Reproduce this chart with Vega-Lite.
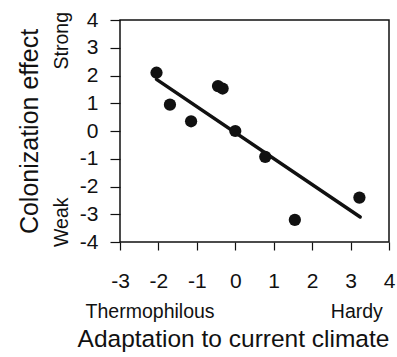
{
  "$schema": "https://vega.github.io/schema/vega-lite/v6.json",
  "width": 269,
  "height": 222,
  "autosize": {"type": "none"},
  "padding": {"left": 120, "top": 20, "right": 8, "bottom": 115},
  "background": "white",
  "config": {
    "font": "Liberation Sans",
    "view": {"stroke": "#111", "strokeWidth": 1.5},
    "axis": {"grid": false, "labelColor": "#111", "titleColor": "#111", "tickColor": "#111", "domainColor": "#111", "labelFlush": false, "labelOverlap": false, "titleFontWeight": "normal"}
  },
  "datasets": {
    "points": [
      {"adaptation": -2.05, "effect": 2.1},
      {"adaptation": -1.7, "effect": 0.95},
      {"adaptation": -1.15, "effect": 0.35},
      {"adaptation": -0.45, "effect": 1.62},
      {"adaptation": -0.33, "effect": 1.53},
      {"adaptation": 0.0, "effect": 0.0},
      {"adaptation": 0.78, "effect": -0.93},
      {"adaptation": 1.55, "effect": -3.2},
      {"adaptation": 3.23, "effect": -2.4}
    ],
    "fit": [
      {"adaptation": -2.05, "effect": 1.86},
      {"adaptation": 3.25, "effect": -3.1}
    ]
  },
  "resolve": {"axis": {"x": "independent", "y": "independent"}},
  "layer": [
    {
      "data": {"name": "fit"},
      "mark": {"type": "line", "color": "#111", "strokeWidth": 3.5, "strokeCap": "round"},
      "encoding": {
        "x": {"field": "adaptation", "type": "quantitative",
          "scale": {"domain": [-3, 4], "nice": false, "zero": false},
          "axis": {"orient": "bottom", "values": [-2.23, 3.15], "labelExpr": "datum.value < 0 ? 'Thermophilous' : 'Hardy'", "ticks": false, "tickSize": 0, "domain": false, "labelPadding": 60, "labelFontSize": 19.5, "labelBaseline": "top", "labelAlign": "center", "title": "Adaptation to current climate", "titleFontSize": 24.5, "titlePadding": 7, "titleX": 113}},
        "y": {"field": "effect", "type": "quantitative",
          "scale": {"domain": [-4, 4], "nice": false, "zero": false},
          "axis": {"orient": "left", "values": [3.27, -3.27], "labelExpr": "datum.value > 0 ? 'Strong' : 'Weak'", "ticks": false, "tickSize": 0, "domain": false, "labelPadding": 49, "labelFontSize": 19.5, "labelAngle": 270, "labelAlign": "center", "labelBaseline": "bottom", "title": "Colonization effect", "titleFontSize": 25, "titlePadding": 9}}
      }
    },
    {
      "data": {"name": "points"},
      "mark": {"type": "circle", "color": "#111", "opacity": 1, "size": 150},
      "encoding": {
        "x": {"field": "adaptation", "type": "quantitative",
          "axis": {"orient": "bottom", "values": [-3, -2, -1, 0, 1, 2, 3, 4], "labelExpr": "toString(datum.value)", "tickSize": 8, "tickWidth": 1.2, "labelPadding": 20, "labelFontSize": 21, "domain": false, "title": null}},
        "y": {"field": "effect", "type": "quantitative",
          "axis": {"orient": "left", "values": [-4, -3, -2, -1, 0, 1, 2, 3, 4], "labelExpr": "toString(datum.value)", "tickSize": 10, "tickWidth": 1.2, "labelPadding": 12, "labelFontSize": 21, "domain": false, "title": null}}
      }
    }
  ]
}
